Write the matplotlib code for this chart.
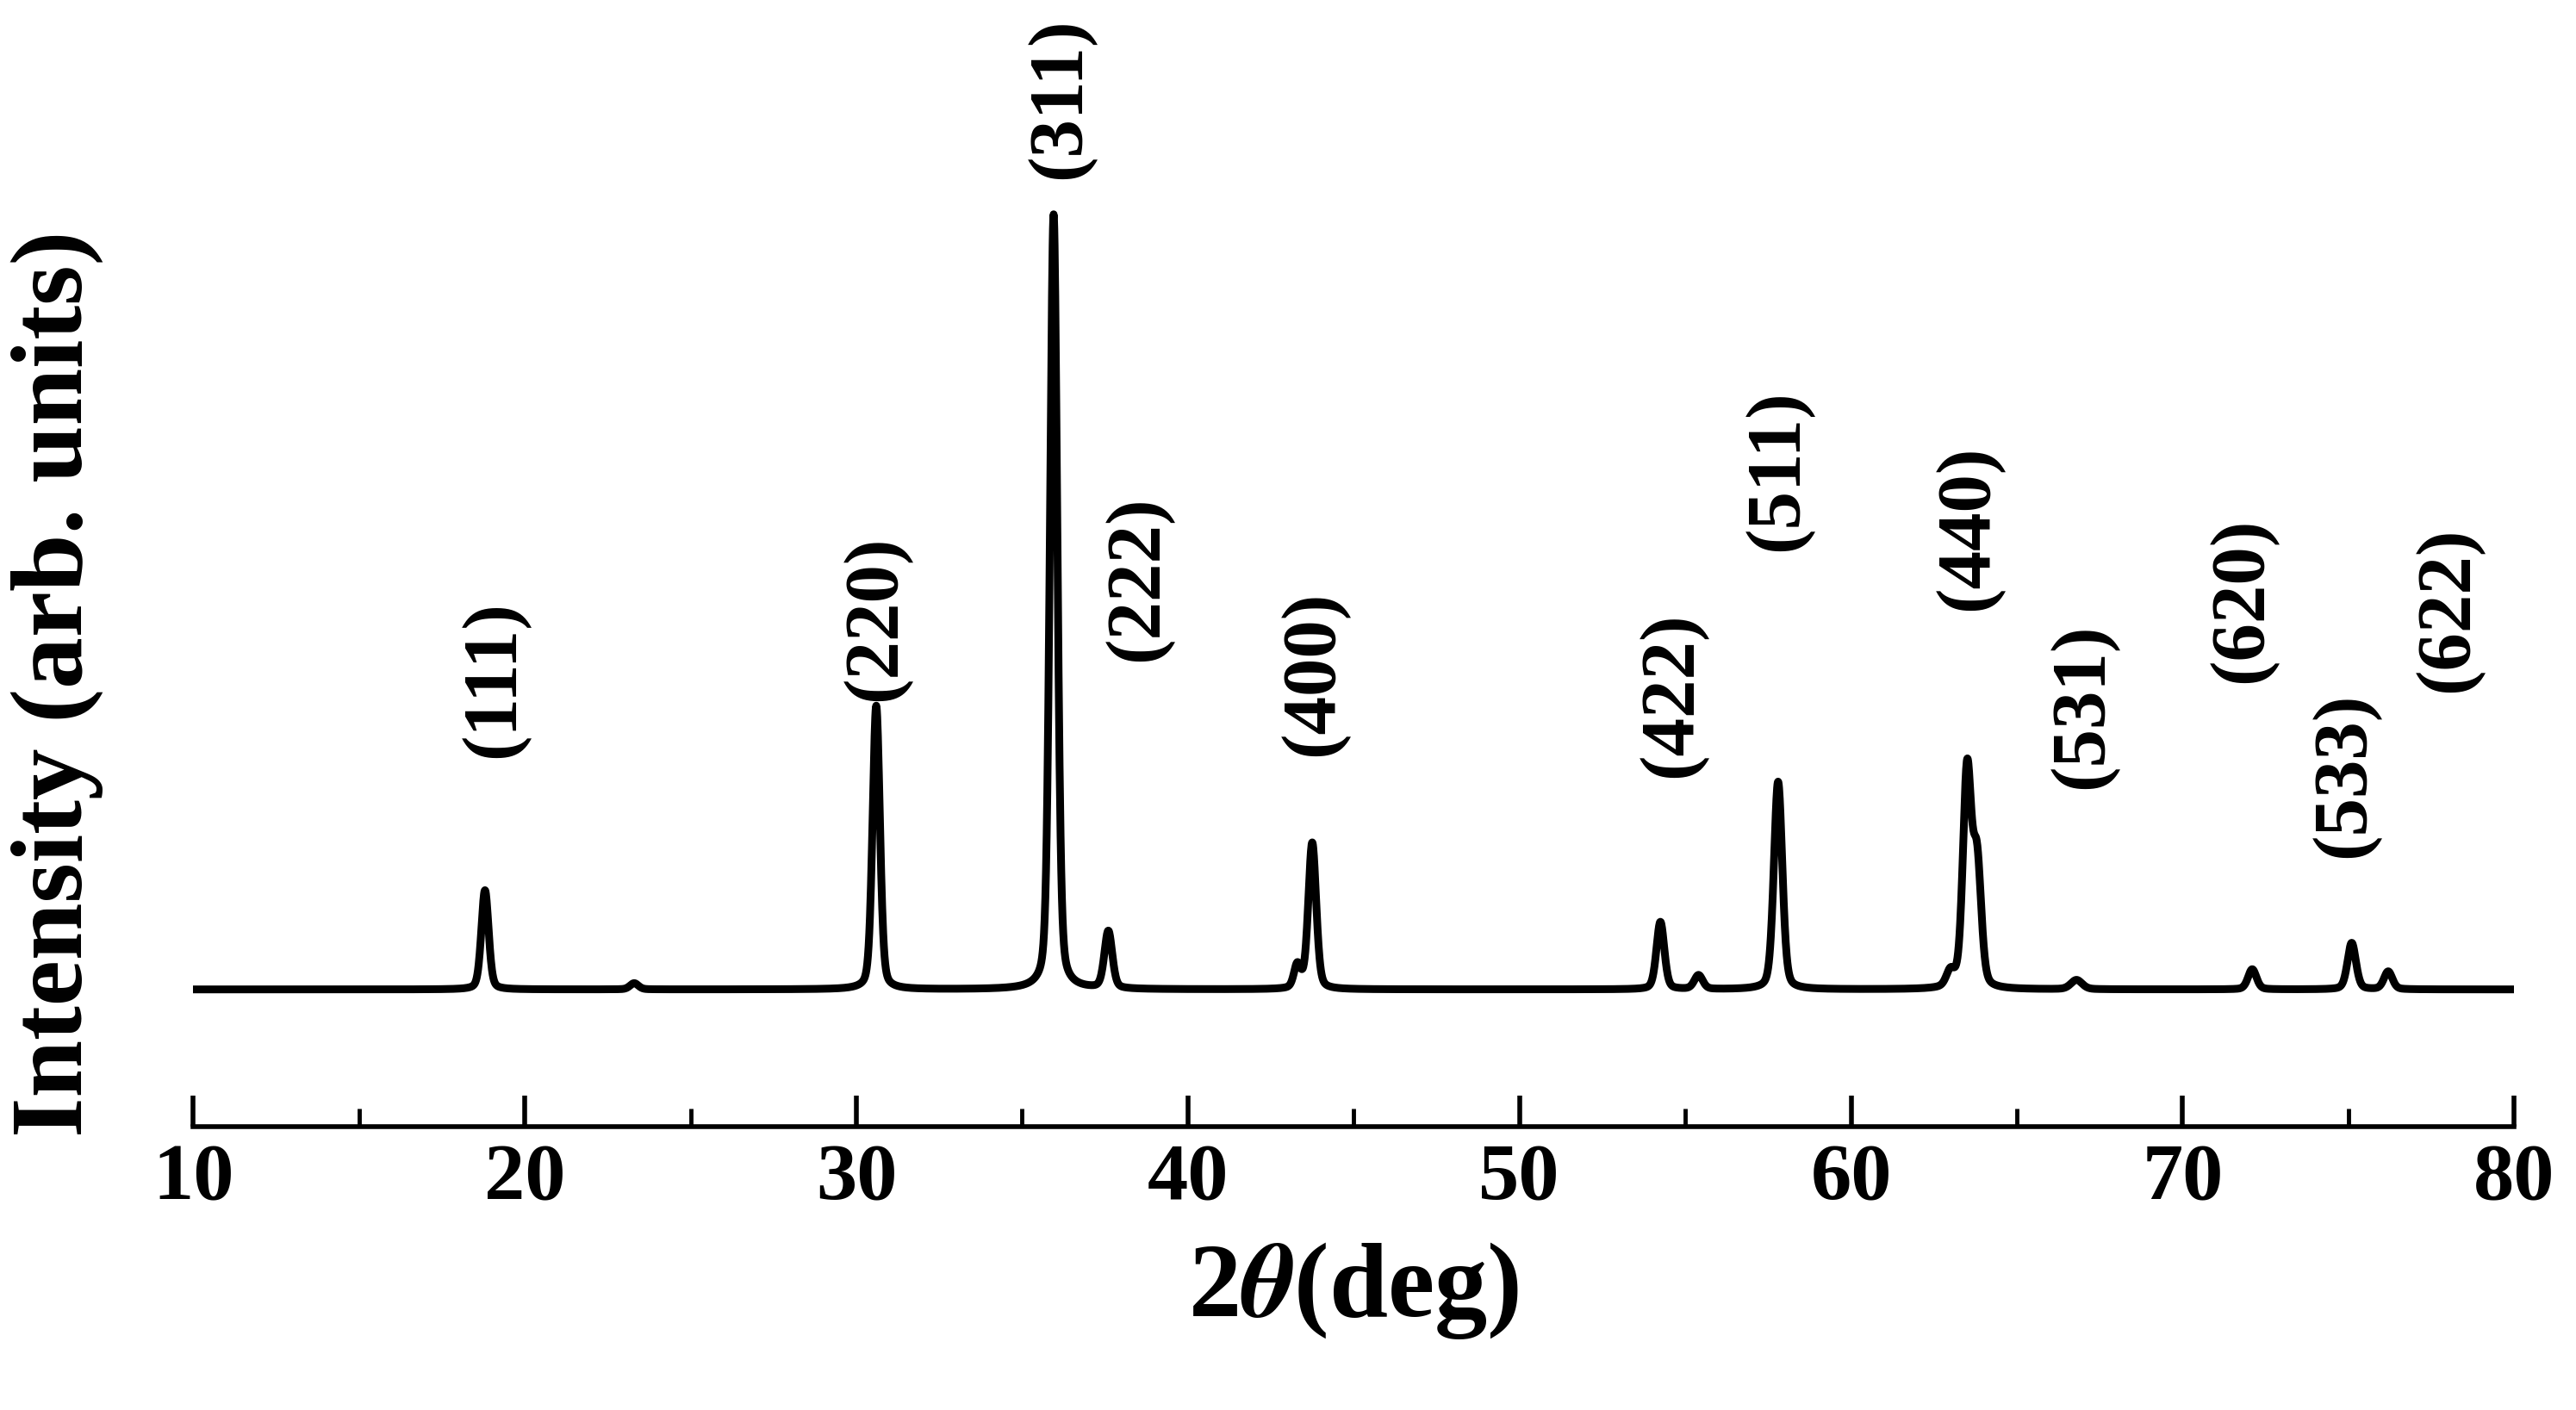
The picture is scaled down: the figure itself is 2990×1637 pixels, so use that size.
import numpy as np
import matplotlib
matplotlib.use("Agg")
from matplotlib import pyplot as plt
from matplotlib.ticker import MultipleLocator

plt.rcParams['font.family'] = ['Liberation Serif', 'DejaVu Serif']
plt.rcParams['mathtext.fontset'] = 'stix'

# peak positions (2theta), heights (arb.), widths (deg, HWHM)
peak_pos = [18.8, 23.3, 30.6, 35.95, 37.6, 43.3, 43.75, 54.25, 55.4, 57.8,
            63.0, 63.5, 63.8, 66.8, 72.1, 75.1, 76.2]
peak_h = [12.8, 0.8, 36.6, 100, 7.4, 3.0, 18.9, 8.7, 1.8, 26.8,
          2.0, 28.0, 16.0, 1.2, 2.6, 6.0, 2.3]
peak_w = [0.13, 0.15, 0.13, 0.13, 0.14, 0.12, 0.14, 0.14, 0.15, 0.15,
          0.15, 0.15, 0.15, 0.2, 0.15, 0.15, 0.15]

labels = ["(111)", "(220)", "(311)", "(222)", "(400)", "(422)", "(511)",
          "(440)", "(531)", "(620)", "(533)", "(622)"]
label_x = [19.07, 30.6, 36.15, 38.5, 43.8, 54.6, 57.8, 63.55, 67.0, 71.8, 74.9, 78.0]
label_y = [40, 47.9, 115, 53, 40.8, 38, 67, 59.6, 36.6, 50.2, 27.7, 49]

x = np.linspace(10, 80, 7001)
y = np.zeros_like(x)
for p, h, w in zip(peak_pos, peak_h, peak_w):
    # pseudo-Voigt profile
    g = np.exp(-np.log(2) * ((x - p) / w) ** 2)
    l = 1 / (1 + ((x - p) / w) ** 2)
    y += h * (0.7 * g + 0.3 * l)

fig = plt.figure(figsize=(29.9, 16.37), dpi=100)
ax = fig.add_axes([0.075, 0.201, 0.901, 0.787])
ax.plot(x, y, color='black', lw=6.5)
ax.set_xlim(10, 80)
ax.set_ylim(-17.7, 125.5)

for s in ['top', 'right', 'left']:
    ax.spines[s].set_visible(False)
ax.spines['bottom'].set_linewidth(4)
ax.set_yticks([])
ax.xaxis.set_major_locator(MultipleLocator(10))
ax.xaxis.set_minor_locator(MultipleLocator(5))
ax.tick_params(axis='x', which='major', direction='in', length=26, width=4,
               labelsize=68, pad=14)
ax.tick_params(axis='x', which='minor', direction='in', length=15, width=3.5)
for t in ax.get_xticklabels():
    t.set_fontweight('bold')

for lab, lx, ly in zip(labels, label_x, label_y):
    ax.text(lx, ly, lab, rotation=90, ha='center', va='center',
            fontsize=64, fontweight='bold')

ax.set_xlabel(r'2$\boldsymbol{\theta}$(deg)', fontsize=88, fontweight='bold', labelpad=20)
fig.text(0.022, 0.515, 'Intensity (arb. units)', rotation=90, ha='center',
         va='center', fontsize=86, fontweight='bold')

fig.savefig("out.png", dpi=100)
